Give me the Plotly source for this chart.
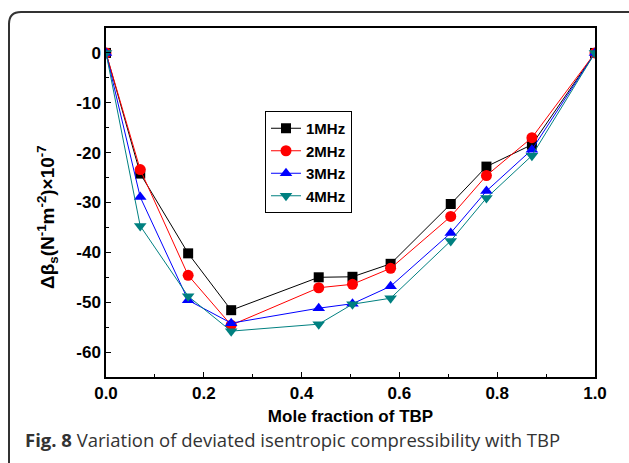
import plotly.graph_objects as go

x_frac = [0.0, 0.070, 0.168, 0.256, 0.435, 0.504, 0.582, 0.705, 0.778, 0.871, 1.0]
mhz1 = [0, -24.2, -40.2, -51.6, -45.0, -44.9, -42.3, -30.3, -22.8, -18.4, 0]
mhz2 = [0, -23.4, -44.6, -54.6, -47.1, -46.4, -43.2, -32.8, -24.6, -17.0, 0]
mhz3 = [0, -28.9, -49.6, -54.2, -51.2, -50.3, -46.8, -36.1, -27.7, -19.4, 0]
mhz4 = [0, -34.7, -48.8, -55.8, -54.4, -50.4, -49.2, -37.7, -29.1, -20.6, 0]
names = ["1MHz", "2MHz", "3MHz", "4MHz"]
x_ticks = [0.0, 0.2, 0.4, 0.6, 0.8, 1.0]
y_ticks = [0, -10, -20, -30, -40, -50, -60]

W, H = 629, 463
L, R, T, B = 106, 595, 28, 377

def px(p):
    return (p - L) / (R - L)

def py(p):
    return (B - p) / (B - T)

styles = [
    dict(color="#000000", symbol="square", size=10),
    dict(color="#FF0000", symbol="circle", size=11),
    dict(color="#0000FF", symbol="triangle-up", size=11),
    dict(color="#008080", symbol="triangle-down", size=11),
]

fig = go.Figure()
for name, ys, st in zip(names, [mhz1, mhz2, mhz3, mhz4], styles):
    fig.add_trace(go.Scatter(
        x=x_frac, y=ys, name=name, mode="lines+markers",
        line=dict(color=st["color"], width=1),
        marker=dict(color=st["color"], symbol=st["symbol"], size=st["size"]),
    ))

tick_font = dict(family="Arial", size=17, color="black", weight="bold")
fig.update_xaxes(
    range=[0, 1], tickvals=x_ticks, ticktext=[f"{v:.1f}" for v in x_ticks],
    ticks="inside", ticklen=5, tickwidth=1, tickcolor="black",
    minor=dict(dtick=0.1, ticks="inside", ticklen=3, tickcolor="black"),
    showline=True, linecolor="black", linewidth=1.5, mirror=True,
    showgrid=False, zeroline=False,
    tickfont=tick_font,
    title=dict(text="<b>Mole fraction of TBP</b>",
               font=dict(family="Arial", size=17, color="black"), standoff=8),
)
fig.update_yaxes(
    range=[-65, 5], tickvals=y_ticks, ticktext=[str(v) for v in y_ticks],
    ticks="inside", ticklen=5, tickwidth=1, tickcolor="black",
    minor=dict(dtick=5, ticks="inside", ticklen=3, tickcolor="black"),
    showline=True, linecolor="black", linewidth=1.5, mirror=True,
    showgrid=False, zeroline=False,
    tickfont=tick_font,
)

x0, x1 = px(9), px(660)
y0, y1 = py(12), py(490)
rx = 12 / (R - L)
ry = 12 / (B - T)
path = (f"M {x0},{y1} L {x0},{y0 - ry} Q {x0},{y0} {x0 + rx},{y0} "
        f"L {x1},{y0}")
fig.add_shape(type="path", xref="paper", yref="paper", path=path,
              line=dict(color="#333333", width=2))

fig.add_annotation(
    xref="paper", yref="paper", x=px(47), y=py(217), textangle=-90,
    text="<b>Δβ<sub>s</sub>(N<sup>-1</sup>m<sup>-2</sup>)×10<sup>-7</sup></b>",
    showarrow=False, font=dict(family="Arial", size=19, color="black"),
    xanchor="center", yanchor="middle",
)
fig.add_annotation(
    xref="paper", yref="paper", x=px(23), y=py(439),
    text="<b>Fig. 8</b> Variation of deviated isentropic compressibility with TBP",
    showarrow=False, font=dict(family="Open Sans", size=18.5, color="#333333"),
    xanchor="left", yanchor="middle",
)

fig.update_layout(
    width=W, height=H,
    margin=dict(l=L, r=W - R, t=T, b=H - B),
    paper_bgcolor="white", plot_bgcolor="white",
    showlegend=True,
    legend=dict(
        x=px(265), y=py(111), xanchor="left", yanchor="top",
        bordercolor="black", borderwidth=1, bgcolor="white",
        font=dict(family="Arial", size=15, color="black", weight="bold"),
        itemwidth=30, tracegroupgap=0,
    ),
)

fig.write_html("out.html")
